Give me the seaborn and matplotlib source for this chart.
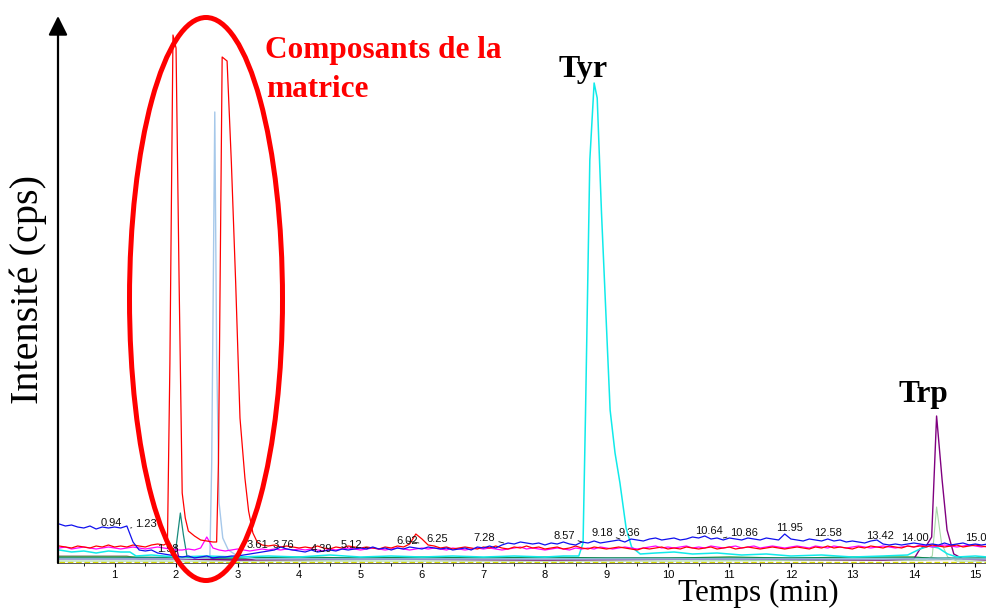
import numpy as np
import pandas as pd
import matplotlib
matplotlib.use("Agg")
import matplotlib.pyplot as plt
from matplotlib.patches import Ellipse
from matplotlib.ticker import AutoMinorLocator
import seaborn as sns

#
# DATA  (time in min, intensity in kcps)
#

# time grid of the noisy baselines
t_grid = np.round(np.arange(0.1, 15.21, 0.1), 1)

blue = [
  78, 74, 76, 72, 70, 74, 68, 72, 70, 72,
  70, 74, 42, 26, 24, 26, 20, 18, 16, 14,
  12, 14, 10, 12, 14, 10, 12, 12, 14, 14,
  16, 18, 20, 22, 24, 26, 32, 28, 26, 24,
  22, 26, 22, 24, 26, 24, 28, 26, 28, 30,
  28, 32, 28, 30, 26, 30, 28, 32, 30, 28,
  32, 30, 28, 30, 26, 28, 30, 26, 32, 30,
  34, 30, 36, 40, 38, 42, 40, 38, 40, 36,
  40, 38, 42, 38, 36, 42, 40, 44, 40, 42,
  44, 46, 42, 48, 46, 44, 48, 50, 46, 48,
  50, 46, 48, 52, 50, 54, 48, 50, 46, 50,
  48, 46, 50, 48, 46, 50, 48, 46, 58, 48,
  46, 44, 48, 46, 44, 48, 44, 46, 42, 44,
  42, 40, 44, 46, 38, 36, 38, 36, 38, 40,
  38, 36, 38, 36, 40, 36, 38, 40, 36, 38,
  36, 38]

red_base = [
  34, 32, 30, 34, 32, 30, 34, 32, 36, 32,
  34, 32, 36, 34, 32, 36, 38, 36, 40, 40,
  40, 40, 40, 40, 40, 40, 40, 40, 40, 40,
  40, 40, 40, 36, 34, 36, 32, 34, 32, 30,
  32, 30, 34, 30, 28, 32, 30, 34, 32, 30,
  32, 30, 28, 32, 30, 34, 32, 38, 58, 48,
  36, 34, 30, 32, 28, 30, 32, 30, 28, 32,
  30, 34, 30, 28, 32, 30, 34, 30, 32, 28,
  30, 32, 28, 30, 34, 30, 28, 32, 30, 28,
  30, 32, 30, 28, 26, 30, 28, 30, 32, 28,
  30, 28, 32, 30, 28, 30, 32, 28, 30, 32,
  28, 30, 32, 30, 28, 30, 32, 30, 28, 30,
  32, 30, 28, 32, 30, 34, 30, 32, 30, 28,
  32, 30, 34, 32, 30, 34, 32, 30, 34, 32,
  34, 32, 36, 34, 32, 34, 36, 32, 34, 36,
  34, 32]

# the two big matrix peaks on the red trace
red_peak_t = [1.86, 1.90, 1.95, 2.00, 2.05, 2.10, 2.15, 2.20, 2.30, 2.40, 2.50, 2.60, 2.66,
              2.69, 2.75, 2.83, 2.90, 2.97, 3.04, 3.12, 3.18, 3.25, 3.32]
red_peak_v = [40, 400, 1056, 1030, 560, 140, 90, 64, 54, 46, 44, 42, 42,
              200, 1012, 1004, 800, 560, 290, 170, 104, 60, 42]

magenta = [
  30, 32, 28, 30, 32, 30, 28, 30, 32, 30,
  28, 30, 32, 30, 28, 30, 32, 30, 28, 26,
  26, 28, 26, 30, 52, 30, 26, 24, 26, 28,
  26, 24, 26, 28, 26, 28, 26, 28, 26, 28,
  26, 28, 26, 24, 28, 26, 28, 30, 28, 26,
  28, 30, 28, 26, 28, 30, 28, 26, 28, 30,
  28, 30, 28, 26, 30, 28, 26, 28, 30, 28,
  30, 28, 26, 28, 30, 32, 28, 30, 28, 26,
  28, 30, 28, 26, 30, 28, 30, 28, 32, 30,
  28, 30, 32, 30, 28, 30, 32, 34, 30, 32,
  30, 32, 34, 30, 32, 30, 34, 32, 30, 32,
  34, 30, 32, 34, 30, 32, 34, 32, 30, 32,
  34, 32, 30, 34, 32, 30, 34, 32, 30, 32,
  34, 32, 30, 32, 34, 32, 30, 32, 34, 32,
  36, 34, 32, 34, 36, 34, 32, 34, 36, 34,
  32, 34]

# Tyr trace
cyan_t = [0.1, 0.3, 0.5, 0.7, 0.9, 1.1, 1.25, 1.35, 1.6, 2.0, 2.5, 3.0, 3.5, 4.0, 4.5,
          5.0, 5.5, 6.0, 6.5, 7.0, 7.5, 8.0, 8.3, 8.55, 8.62, 8.66, 8.73, 8.80, 8.85, 8.92,
          9.06, 9.14, 9.22, 9.32, 9.41, 9.55, 9.8, 10.1, 10.4, 10.8, 11.2, 11.6, 12.0, 12.5,
          13.0, 13.5, 13.9, 14.1, 14.25, 14.4, 14.55, 14.7, 15.0, 15.2]
cyan_v = [26, 22, 24, 20, 24, 22, 22, 14, 16, 12, 14, 12, 14, 12, 16,
          12, 14, 12, 14, 12, 14, 12, 14, 14, 40, 300, 806, 960, 930, 700,
          306, 220, 160, 70, 32, 18, 20, 22, 18, 20, 16, 18, 14, 16,
          12, 14, 16, 28, 34, 30, 18, 12, 14, 12]

# Trp trace
purple_t = [0.1, 1.0, 1.95, 2.0, 2.05, 3.0, 5.0, 8.0, 11.0, 13.5, 14.0, 14.1, 14.2, 14.29,
            14.37, 14.46, 14.54, 14.65, 14.8, 15.2]
purple_v = [8, 8, 8, 34, 8, 6, 8, 6, 8, 6, 8, 28, 34, 52,
            294, 166, 66, 18, 8, 6]

lightblue_t = [0.1, 2.0, 2.55, 2.58, 2.63, 2.66, 2.70, 2.76, 2.85, 3.0, 3.3, 15.2]
lightblue_v = [8, 8, 10, 200, 902, 420, 120, 50, 26, 14, 8, 8]

teal_t = [0.1, 1.0, 1.98, 2.07, 2.12, 2.18, 2.25, 6.0, 10.0, 15.2]
teal_v = [10, 10, 12, 100, 56, 12, 10, 10, 10, 10]

lightgreen_t = [0.1, 5.0, 10.0, 14.2, 14.3, 14.37, 14.45, 14.55, 14.7, 15.2]
lightgreen_v = [4, 4, 4, 6, 14, 112, 40, 12, 4, 4]

green_t = [0.1, 1.3, 2.0, 3.0, 4.0, 5.0, 6.0, 7.0, 8.0, 9.0, 10.0, 11.0, 12.0, 13.0, 14.0, 14.5, 15.2]
green_v = [12, 12, 10, 10, 12, 10, 12, 10, 12, 10, 10, 12, 10, 12, 12, 8, 10]

gray_t = [0.1, 1.2, 1.4, 4.0, 6.0, 8.0, 10.0, 12.0, 14.0, 15.2]
gray_v = [14, 14, 8, 6, 8, 6, 8, 6, 6, 8]

yellow_t = [0.1, 15.2]
yellow_v = [2, 2]

# peak retention time labels
label_text = ["0.94", "1.23", "1.98", "3.61", "3.76", "4.39", "5.12", "6.02", "6.25", "7.28",
              "8.57", "9.18", "9.36", "10.64", "10.86", "11.95", "12.58", "13.42", "14.00", "15.02"]
label_pos_x = [0.94, 1.51, 1.87, 3.33, 3.74, 4.37, 4.85, 5.76, 6.24, 7.02,
               8.31, 8.93, 9.38, 10.67, 11.24, 11.98, 12.60, 13.45, 14.02, 15.06]
label_pos_y = [80, 78, 28, 36, 36, 28, 36, 44, 48, 50,
               54, 60, 60, 64, 60, 70, 60, 54, 50, 50]
# leader lines: label -> point on trace
leaders = {"1.23": (1.26, 70), "5.12": (5.12, 30), "6.02": (5.95, 40), "7.28": (7.33, 40),
           "8.57": (8.60, 42), "9.18": (9.22, 48), "10.86": (10.90, 50)}

#
# merge the red peaks into its baseline
#
t_grid_arr = np.array(t_grid)
keep = (t_grid_arr < red_peak_t[0]) | (t_grid_arr > red_peak_t[-1])
red_t = np.concatenate([t_grid_arr[keep], red_peak_t])
red_v = np.concatenate([np.array(red_base)[keep], red_peak_v])
order = np.argsort(red_t)
red_t, red_v = red_t[order], red_v[order]

#
# PLOT
#
sns.set_style("white")
plt.rcParams['font.family'] = ['Liberation Sans', 'DejaVu Sans']
plt.rcParams['text.color'] = 'black'
plt.rcParams['xtick.color'] = 'black'
plt.rcParams['axes.labelcolor'] = 'black'

W, H = 987, 610
fig = plt.figure(figsize=(W / 100, H / 100), dpi=100)
ax = fig.add_axes([58 / W, 1 - 563 / H, (W - 58) / W, (563 - 16) / H])

traces = [
  (yellow_t, yellow_v, "#d8d800", 1.0, (0, (4, 2))),
  (gray_t, gray_v, "#9a9a9a", 1.0, "-"),
  (green_t, green_v, "#008000", 0.8, "-"),
  (lightgreen_t, lightgreen_v, "#a8d8a8", 0.8, "-"),
  (purple_t, purple_v, "#800080", 1.0, "-"),
  (teal_t, teal_v, "#178a7c", 0.9, "-"),
  (lightblue_t, lightblue_v, "#a6c8ea", 1.0, "-"),
  (cyan_t, cyan_v, "#10eaea", 1.1, "-"),
  (t_grid, magenta, "#ff00ff", 0.9, "-"),
  (red_t, red_v, "#ff0000", 0.9, "-"),
  (t_grid, blue, "#1010ee", 0.9, "-"),
]
for tt, vv, col, lw, ls in traces:
  df = pd.DataFrame({"t": tt, "v": vv})
  sns.lineplot(data=df, x="t", y="v", ax=ax, color=col, lw=lw, linestyle=ls,
               estimator=None, errorbar=None)

ax.set_xlim(0.08, 15.19)
ax.set_ylim(0, 1094)
ax.set_xlabel("")
ax.set_ylabel("")
ax.set_yticks([])
ax.set_xticks(range(1, 16))
ax.xaxis.set_minor_locator(AutoMinorLocator(2))
ax.tick_params(axis="x", which="major", direction="out", length=3, width=0.8,
               labelsize=8, pad=2, bottom=True, colors="black")
ax.tick_params(axis="x", which="minor", direction="out", length=2, width=0.6, bottom=True)
for s in ["top", "right", "left"]:
  ax.spines[s].set_visible(False)
ax.spines["bottom"].set_linewidth(0.6)
ax.spines["bottom"].set_color("#444444")

# y axis with arrow head
ax.annotate("", xy=(0, 1), xytext=(0, 0), xycoords="axes fraction",
            arrowprops=dict(arrowstyle="-|>", lw=1.6, color="black",
                            mutation_scale=29, shrinkA=0, shrinkB=0))

# retention time labels
for txt, lx, ly in zip(label_text, label_pos_x, label_pos_y):
  if txt in leaders:
    ax.annotate(txt, xy=leaders[txt], xytext=(lx, ly), fontsize=8,
                ha="center", va="center", color="#111111",
                arrowprops=dict(arrowstyle="-", lw=0.6, color="#111111",
                                shrinkA=0, shrinkB=0))
  else:
    ax.text(lx, ly, txt, fontsize=8, ha="center", va="center", color="#111111")

# red ellipse around the matrix peaks
ell = Ellipse((206 / W, 1 - 299 / H), 153 / W, 563 / H, transform=fig.transFigure,
              fill=False, edgecolor="#ff0000", lw=3.6, zorder=10)
fig.add_artist(ell)

serif = ["Liberation Serif", "DejaVu Serif"]
fig.text(265 / W, 1 - 58 / H, "Composants de la", color="#ff0000", fontsize=22.5,
         fontweight="bold", family=serif, ha="left", va="baseline")
fig.text(266 / W, 1 - 97 / H, "matrice", color="#ff0000", fontsize=22.5,
         fontweight="bold", family=serif, ha="left", va="baseline")
fig.text(583 / W, 1 - 77 / H, "Tyr", fontsize=23, fontweight="bold", family=serif,
         ha="center", va="baseline", color="black")
fig.text(923 / W, 1 - 402 / H, "Trp", fontsize=22.5, fontweight="bold", family=serif,
         ha="center", va="baseline", color="black")

fig.text(28 / W, 1 - 290 / H, "Intensité (cps)", rotation=90, fontsize=29, family=serif,
         ha="center", va="center", color="black")
fig.text(758 / W, 1 - 593 / H, "Temps (min)", fontsize=22.5, family=serif,
         ha="center", va="center", color="black")

fig.savefig("out.png", dpi=100)
